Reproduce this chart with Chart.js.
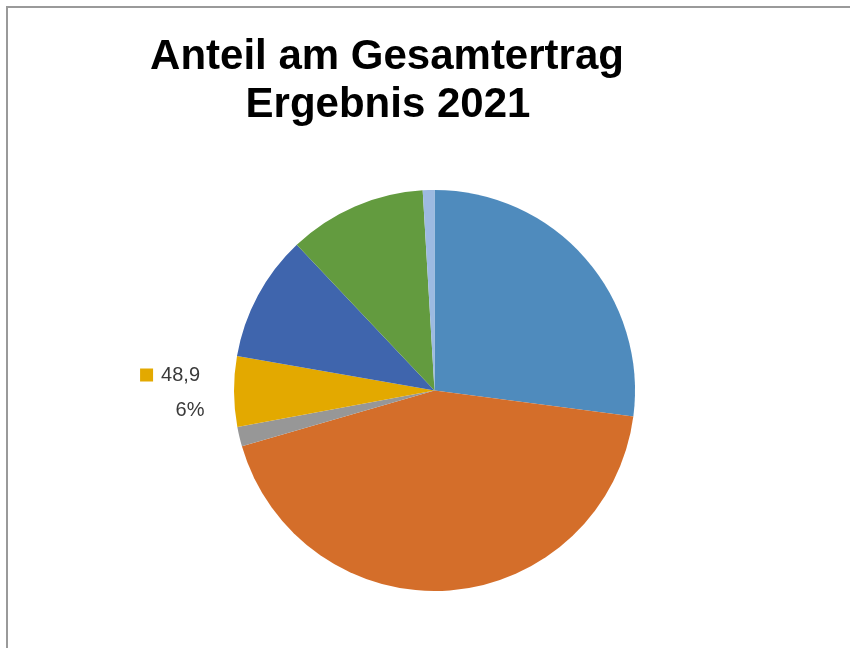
<!DOCTYPE html>
<html>
<head>
<meta charset="utf-8">
<script src="https://cdn.jsdelivr.net/npm/chart.js@4"></script>
<style>
  html, body { margin: 0; padding: 0; background: #fff; }
  #wrap { position: relative; width: 850px; height: 648px; overflow: hidden; }
  #frame { position: absolute; left: 6px; top: 6px; width: 900px; height: 700px;
           border-left: 2px solid #9a9a9a; border-top: 2px solid #9a9a9a; box-sizing: border-box; }
  canvas { position: absolute; left: 0; top: 0; }
</style>
</head>
<body>
<div id="wrap">
  <div id="frame"></div>
  <canvas id="c" width="850" height="648"></canvas>
</div>
<script>
const titleLines = ["Anteil am Gesamtertrag", "Ergebnis 2021"];
const categories = ["Anteil 1", "Anteil 2", "Anteil 3", "Anteil 4", "Anteil 5", "Anteil 6", "Anteil 7"];
const values = [233.3, 374.5, 13.6, 48.9, 87.8, 95.8, 8.1];
const colors = ["#4F8BBD", "#D46E2A", "#979797", "#E3A900", "#3F65AD", "#639B3F", "#9DBAE1"];
const labelledIndex = 3;

const titlePlugin = {
  id: 'customTitle',
  afterDraw(chart) {
    const ctx = chart.ctx;
    ctx.save();
    ctx.font = 'bold 42px "Liberation Sans", Arial, sans-serif';
    ctx.fillStyle = '#000';
    ctx.textAlign = 'center';
    ctx.textBaseline = 'alphabetic';
    ctx.fillText(titleLines[0], 387, 69);
    ctx.fillText(titleLines[1], 388, 117);
    ctx.restore();
  }
};

const dataLabelPlugin = {
  id: 'dataLabel',
  afterDatasetsDraw(chart) {
    const meta = chart.getDatasetMeta(0);
    const arc = meta.data[labelledIndex];
    const ds = chart.data.datasets[0].data;
    const total = ds.reduce((a, b) => a + b, 0);
    const v = ds[labelledIndex];
    const pct = Math.round(v / total * 100) + '%';
    const valTxt = v.toFixed(1).replace('.', ',');
    const ctx = chart.ctx;
    const rightX = arc.x - arc.outerRadius - 30;
    ctx.save();
    ctx.font = '20px "Liberation Sans", Arial, sans-serif';
    ctx.fillStyle = '#3a3a3a';
    ctx.textBaseline = 'middle';
    ctx.textAlign = 'right';
    ctx.fillText(valTxt, rightX - 4, arc.y - 15);
    const w = ctx.measureText(valTxt).width;
    ctx.fillStyle = colors[labelledIndex];
    ctx.fillRect(rightX - 4 - w - 21, arc.y - 22, 13, 13);
    ctx.fillStyle = '#3a3a3a';
    ctx.textAlign = 'center';
    ctx.fillText(pct, rightX - 14, arc.y + 20);
    ctx.restore();
  }
};

new Chart(document.getElementById('c'), {
  type: 'pie',
  data: {
    labels: categories,
    datasets: [{
      data: values,
      backgroundColor: colors,
      borderWidth: 0
    }]
  },
  options: {
    responsive: false,
    animation: false,
    layout: { padding: { left: 234, right: 215, top: 190, bottom: 57 } },
    plugins: {
      legend: { display: false },
      title: { display: false },
      tooltip: { enabled: false }
    }
  },
  plugins: [titlePlugin, dataLabelPlugin]
});
</script>
</body>
</html>
